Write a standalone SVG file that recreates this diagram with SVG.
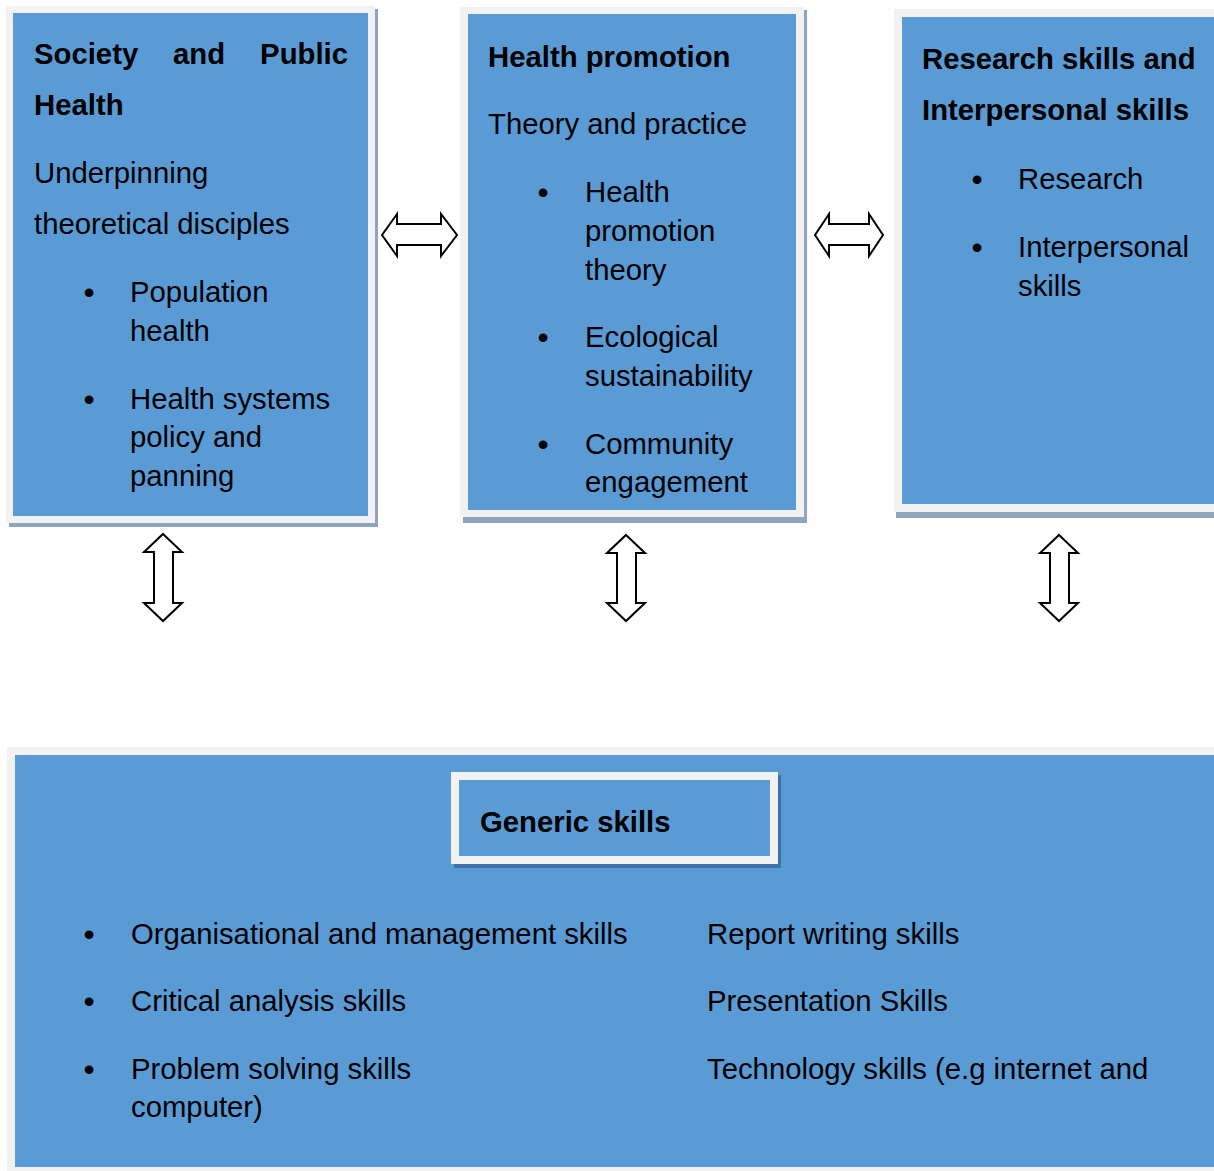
<svg xmlns="http://www.w3.org/2000/svg" width="1214" height="1171" viewBox="0 0 1214 1171">
  <style>
    .bg { fill: #ffffff; }
    .frame { fill: #f2f2f2; }
    .shadow { fill: #8ea4bf; }
    .shadow-dark { fill: #3f72a8; }
    .panel { fill: #5b9bd5; }
    text { font-family: "Liberation Sans", Arial, sans-serif; font-size: 29.3px; fill: #000000; }
    .b { font-weight: bold; }
    .dot { font-size: 32px; }
    .arrow { fill: #ffffff; stroke: #000000; stroke-width: 2; stroke-linejoin: miter; }
  </style>
  <rect class="bg" x="0" y="0" width="1214" height="1171"/>

  <!-- Society and Public Health -->
  <g id="society-public-health">
    <rect class="shadow" x="9" y="9" width="369" height="518"/>
    <rect class="frame" x="6" y="6" width="369" height="517"/>
    <rect class="panel" x="13" y="13" width="355" height="503"/>
    <text class="b" x="34" y="64">Society</text>
    <text class="b" x="173" y="64">and</text>
    <text class="b" x="348" y="64" text-anchor="end">Public</text>
    <text class="b" x="34" y="115">Health</text>
    <text x="34" y="183">Underpinning</text>
    <text x="34" y="234">theoretical disciples</text>
    <text class="dot" x="89" y="303" text-anchor="middle">•</text>
    <text x="130" y="302">Population</text>
    <text x="130" y="341">health</text>
    <text class="dot" x="89" y="410" text-anchor="middle">•</text>
    <text x="130" y="409">Health systems</text>
    <text x="130" y="447">policy and</text>
    <text x="130" y="486">panning</text>
  </g>

  <!-- Health promotion -->
  <g id="health-promotion">
    <rect class="shadow" x="463" y="10" width="344" height="513"/>
    <rect class="frame" x="460" y="7" width="344" height="510"/>
    <rect class="panel" x="468" y="14" width="328" height="496"/>
    <text class="b" x="488" y="67">Health promotion</text>
    <text x="488" y="134">Theory and practice</text>
    <text class="dot" x="543" y="203" text-anchor="middle">•</text>
    <text x="585" y="202">Health</text>
    <text x="585" y="241">promotion</text>
    <text x="585" y="280">theory</text>
    <text class="dot" x="543" y="348" text-anchor="middle">•</text>
    <text x="585" y="347">Ecological</text>
    <text x="585" y="386">sustainability</text>
    <text class="dot" x="543" y="455" text-anchor="middle">•</text>
    <text x="585" y="454">Community</text>
    <text x="585" y="492">engagement</text>
  </g>

  <!-- Research skills and Interpersonal skills -->
  <g id="research-interpersonal">
    <rect class="shadow" x="896" y="12" width="330" height="506"/>
    <rect class="frame" x="894" y="9" width="330" height="503"/>
    <rect class="panel" x="902" y="17" width="320" height="487"/>
    <text class="b" x="922" y="69">Research skills and</text>
    <text class="b" x="922" y="120">Interpersonal skills</text>
    <text class="dot" x="977" y="190" text-anchor="middle">•</text>
    <text x="1018" y="189">Research</text>
    <text class="dot" x="977" y="258" text-anchor="middle">•</text>
    <text x="1018" y="257">Interpersonal</text>
    <text x="1018" y="296">skills</text>
  </g>

  <!-- Generic skills -->
  <g id="generic-skills">
    <rect class="frame" x="7" y="747" width="1220" height="430"/>
    <rect class="panel" x="15" y="755" width="1210" height="412"/>
    <rect class="shadow-dark" x="454" y="775" width="327" height="93"/>
    <rect class="frame" x="451" y="772" width="327" height="92"/>
    <rect class="panel" x="459" y="780" width="311" height="76"/>
    <text class="b" x="480" y="832">Generic skills</text>
    <text class="dot" x="89" y="945" text-anchor="middle">•</text>
    <text x="131" y="944">Organisational and management skills</text>
    <text class="dot" x="89" y="1012" text-anchor="middle">•</text>
    <text x="131" y="1011">Critical analysis skills</text>
    <text class="dot" x="89" y="1080" text-anchor="middle">•</text>
    <text x="131" y="1079">Problem solving skills</text>
    <text x="131" y="1117">computer)</text>
    <text x="707" y="944">Report writing skills</text>
    <text x="707" y="1011">Presentation Skills</text>
    <text x="707" y="1079">Technology skills (e.g internet and</text>
  </g>

  <!-- Two-way block arrows between the areas -->
  <g id="connectors">
    <path class="arrow" d="M382,235 L397,214 L397,224 L441,224 L441,214 L457,235 L441,256 L441,245 L397,245 L397,256 Z"/>
    <path class="arrow" d="M815,235 L829,214 L829,224 L869,224 L869,214 L883,235 L869,256 L869,245 L829,245 L829,256 Z"/>
    <path class="arrow" d="M163,534 L182,552 L173,552 L173,603 L182,603 L163,621 L144,603 L154,603 L154,552 L144,552 Z"/>
    <path class="arrow" d="M626,535 L645,553 L636,553 L636,603 L645,603 L626,621 L607,603 L617,603 L617,553 L607,553 Z"/>
    <path class="arrow" d="M1059,535 L1078,553 L1069,553 L1069,603 L1078,603 L1059,621 L1040,603 L1050,603 L1050,553 L1040,553 Z"/>
  </g>
</svg>
